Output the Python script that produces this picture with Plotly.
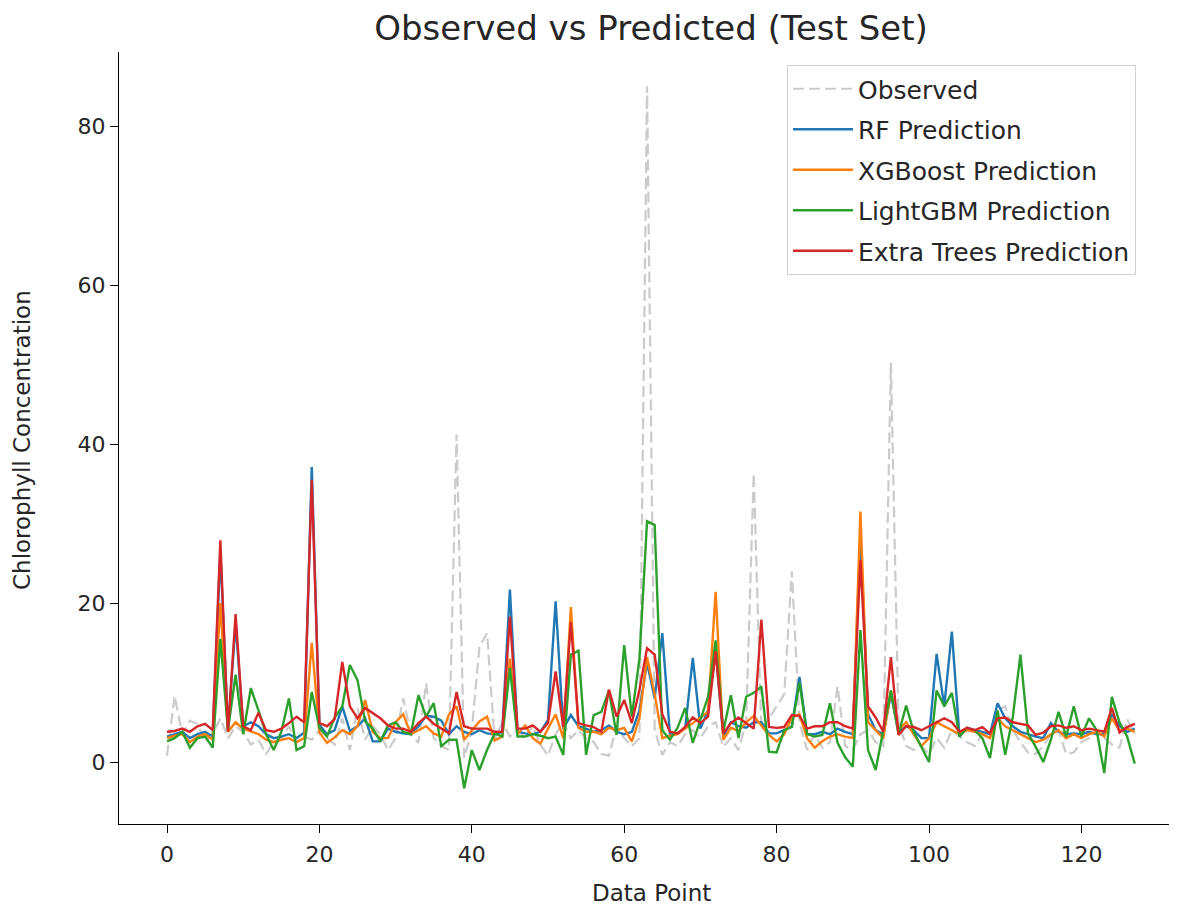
import plotly.graph_objects as go

x_index = list(range(128))

observed = [0.8, 8.3, 3.5, 5.2, 4.8, 2.5, 3.5, 5.5, 3.0, 4.5, 3.8, 2.2, 2.8, 1.0, 2.5, 3.0,
            4.5, 2.5, 3.2, 2.8, 4.0, 3.0, 2.2, 5.5, 1.5, 6.8, 2.8, 4.5, 3.5, 1.5, 3.0, 8.0,
            3.5, 2.4, 9.9, 3.0, 2.0, 1.5, 41.2, 0.5, 4.0, 14.5, 16.2, 2.8, 5.0, 3.2, 4.0, 3.0,
            4.5, 2.2, 0.8, 3.5, 5.0, 3.0, 4.0, 3.0, 2.5, 1.0, 0.8, 4.5, 3.0, 2.0, 3.0, 85.0,
            4.0, 0.9, 2.5, 2.0, 3.5, 4.0, 3.0, 4.5, 5.0, 1.9, 3.0, 1.5, 5.0, 36.3, 4.0, 5.5,
            7.0, 8.5, 24.0, 5.0, 1.5, 3.5, 1.8, 2.5, 9.5, 2.0, 1.5, 3.5, 4.0, 2.5, 2.0, 50.2,
            5.0, 2.0, 1.5, 2.0, 1.0, 3.0, 1.8, 4.0, 3.2, 2.5, 2.0, 3.5, 3.0, 6.5, 7.0, 4.0,
            2.5, 1.2, 1.0, 2.0, 3.5, 4.0, 1.0, 1.2, 2.5, 3.0, 4.0, 3.0, 2.2, 1.8, 5.4, 3.5]

rf_pred = [3.2, 3.5, 3.8, 3.0, 3.5, 3.8, 3.2, 26.5, 4.0, 17.5, 4.5, 5.0, 4.5, 3.5, 3.0, 3.2,
           3.5, 3.0, 3.7, 37.1, 4.7, 3.5, 4.0, 7.0, 3.9, 4.5, 5.5, 2.6, 2.6, 4.2, 3.8, 3.6,
           3.5, 4.5, 5.8, 5.7, 5.2, 3.5, 4.5, 3.8, 3.5, 4.0, 3.6, 3.5, 3.8, 21.7, 3.8, 3.6,
           3.5, 3.8, 5.3, 20.2, 4.2, 5.9, 4.5, 4.2, 3.8, 4.0, 4.6, 3.8, 3.5, 3.8, 6.5, 12.5,
           8.0, 16.2, 3.5, 3.6, 4.2, 13.1, 4.2, 6.5, 14.2, 3.2, 5.0, 4.5, 4.3, 5.0, 5.0, 3.6,
           3.6, 4.0, 4.5, 10.7, 3.5, 3.5, 3.8, 3.5, 4.2, 3.8, 3.5, 28.5, 6.0, 4.0, 3.5, 8.5,
           3.8, 4.5, 4.0, 3.0, 3.0, 13.6, 7.0, 16.4, 3.2, 4.3, 4.0, 3.8, 3.5, 7.4, 5.5, 4.5,
           3.8, 3.5, 3.2, 3.0, 4.9, 3.8, 3.5, 3.6, 3.5, 3.8, 3.5, 3.5, 6.0, 4.5, 3.8, 4.2]

xgb_pred = [3.0, 3.3, 3.5, 2.5, 3.2, 3.5, 2.8, 20.0, 3.8, 5.0, 4.2, 3.8, 3.5, 2.8, 2.5, 2.8,
            3.0, 2.5, 3.0, 15.0, 3.7, 2.4, 3.1, 4.0, 3.5, 4.5, 7.8, 3.8, 3.0, 3.0, 5.0, 6.0,
            3.5, 4.0, 4.5, 3.6, 3.2, 6.0, 7.0, 2.8, 4.0, 5.1, 5.7, 2.7, 3.2, 13.0, 3.5, 4.6,
            3.0, 2.3, 4.2, 6.0, 3.0, 19.5, 4.3, 3.8, 3.8, 3.5, 4.3, 4.0, 4.3, 2.6, 5.5, 13.2,
            8.5, 3.0, 3.3, 3.5, 4.2, 4.9, 5.5, 6.3, 21.4, 2.8, 4.3, 3.9, 5.0, 5.8, 4.6, 3.4,
            2.6, 3.5, 5.6, 6.0, 3.0, 1.8, 2.6, 3.2, 3.5, 3.2, 3.0, 31.5, 5.0, 4.0, 3.0, 9.0,
            4.0, 5.0, 3.5, 2.0, 3.0, 5.0, 4.5, 4.0, 3.5, 4.0, 3.8, 3.5, 3.0, 5.5, 4.5, 4.0,
            3.5, 3.0, 2.5, 2.8, 3.5, 4.0, 3.0, 3.5, 3.0, 3.5, 3.8, 3.2, 5.5, 4.0, 4.2, 3.8]

lgbm_pred = [2.6, 3.0, 3.8, 1.8, 3.0, 3.2, 1.8, 15.5, 4.0, 11.0, 3.5, 9.3, 6.5, 3.5, 1.5, 3.8,
             8.0, 1.5, 2.0, 8.8, 4.3, 3.2, 5.6, 7.0, 12.2, 10.3, 5.1, 4.2, 2.6, 4.6, 5.0, 3.8,
             3.5, 8.4, 5.7, 7.4, 2.0, 2.8, 2.8, -3.3, 1.5, -1.0, 1.5, 3.6, 3.2, 11.8, 3.2, 3.2,
             3.5, 3.3, 3.0, 3.2, 0.9, 13.5, 14.0, 0.9, 5.9, 6.3, 9.0, 3.4, 14.7, 5.7, 13.0, 30.3,
             29.8, 4.0, 2.8, 4.3, 6.8, 2.4, 5.3, 8.2, 15.3, 3.8, 8.4, 3.0, 8.2, 8.7, 9.5, 1.3,
             1.2, 4.0, 4.4, 10.0, 3.5, 3.2, 3.4, 7.4, 2.4, 0.6, -0.6, 16.6, 1.5, -1.0, 4.0, 9.0,
             3.5, 7.1, 3.8, 2.0, 0.0, 9.0, 7.0, 8.7, 3.2, 4.3, 4.0, 3.0, 0.5, 6.5, 0.9, 5.7,
             13.5, 3.6, 1.9, 0.0, 2.8, 6.3, 3.2, 7.0, 3.2, 5.5, 4.0, -1.4, 8.2, 5.0, 3.2, -0.2]

et_pred = [3.8, 3.9, 4.2, 3.8, 4.5, 4.8, 4.0, 27.9, 3.8, 18.6, 4.5, 4.0, 6.2, 4.0, 3.8, 4.2,
           4.9, 5.7, 5.0, 35.5, 4.9, 4.5, 5.4, 12.6, 7.0, 5.5, 6.8, 6.2, 5.5, 4.6, 4.2, 4.2,
           3.8, 4.9, 5.7, 4.8, 4.2, 3.6, 8.8, 4.5, 4.2, 4.2, 4.2, 3.8, 3.8, 18.3, 4.2, 4.2,
           4.6, 3.8, 4.9, 11.4, 4.4, 17.6, 4.9, 4.6, 4.4, 3.8, 9.1, 5.7, 7.8, 4.9, 9.1, 14.3,
           13.5, 6.0, 3.8, 3.6, 4.4, 5.6, 4.9, 5.7, 13.9, 3.6, 4.9, 5.6, 4.9, 4.2, 17.9, 4.4,
           4.3, 4.4, 5.9, 5.8, 4.2, 4.5, 4.5, 5.0, 5.0, 4.5, 4.2, 25.4, 7.0, 5.6, 3.8, 13.2,
           3.4, 4.5, 4.4, 4.0, 4.5, 5.0, 5.5, 5.0, 3.8, 4.3, 4.0, 4.4, 3.6, 5.5, 5.6, 5.0,
           4.8, 4.6, 3.4, 3.7, 4.5, 4.6, 4.3, 4.5, 4.0, 4.2, 4.0, 3.8, 6.8, 3.7, 4.4, 4.8]

x_ticks = [0, 20, 40, 60, 80, 100, 120]
y_ticks = [0, 20, 40, 60, 80]

series = [
    ("RF Prediction", rf_pred, "#1f77b4"),
    ("XGBoost Prediction", xgb_pred, "#ff7f0e"),
    ("LightGBM Prediction", lgbm_pred, "#2ca02c"),
    ("Extra Trees Prediction", et_pred, "#d62728"),
]

fig = go.Figure()
fig.add_trace(go.Scatter(x=x_index, y=observed, mode="lines", name="Observed",
                         legendgroup="obs",
                         line=dict(color="#cbcbcb", width=2.2, dash="11px,5px")))
for name, vals, col in series:
    fig.add_trace(go.Scatter(x=x_index, y=vals, mode="lines", name=name,
                             legendgroup=name, line=dict(color=col, width=2.4)))

font_main = "DejaVu Sans, sans-serif"
text_col = "#262626"

# page has an 8px body margin: figure coordinates = page coordinates - 8
W, H = 1169, 900
L, T, B = 111, 44, 84
PW, PH = W - L, H - T - B

fig.update_layout(
    width=W, height=H,
    margin=dict(l=L, r=0, t=T, b=B),
    plot_bgcolor="white", paper_bgcolor="white",
    font=dict(family=font_main, size=22, color=text_col),
    title=dict(text="Observed vs Predicted (Test Set)", x=643/W, xref="container",
               xanchor="center", y=1-20/H, yref="container", yanchor="middle",
               font=dict(family=font_main, size=34, color=text_col)),
    showlegend=True,
    legend=dict(x=(787-119)/PW, y=(824-65)/PH, xanchor="left", yanchor="top",
                bgcolor="white", bordercolor="#d0d0d0", borderwidth=1,
                font=dict(family=font_main, size=25, color=text_col),
                tracegroupgap=5, itemwidth=60),
    xaxis=dict(range=[-6.3, (1177-167)/7.62], tickmode="array", tickvals=x_ticks,
               showgrid=False, zeroline=False, showline=True, linecolor="black",
               linewidth=1.3, ticks="outside", ticklen=8, tickwidth=1.3,
               tickcolor="black", ticklabelstandoff=2,
               tickfont=dict(family=font_main, size=22, color=text_col)),
    yaxis=dict(range=[(762-824)/7.95, (762-52)/7.95], tickmode="array", tickvals=y_ticks,
               showgrid=False, zeroline=False, showline=True, linecolor="black",
               linewidth=1.3, ticks="outside", ticklen=8, tickwidth=1.3,
               tickcolor="black", ticklabelstandoff=0,
               tickfont=dict(family=font_main, size=22, color=text_col)),
    annotations=[
        dict(text="Data Point", xref="paper", yref="paper", x=(651-119)/PW, y=0,
             xanchor="center", yanchor="middle", yshift=-(893-824), showarrow=False,
             font=dict(family=font_main, size=23, color=text_col)),
        dict(text="Chlorophyll Concentration", xref="paper", yref="paper", x=0,
             y=(824-440)/PH, xanchor="center", yanchor="middle", xshift=-(119-22),
             textangle=-90, showarrow=False,
             font=dict(family=font_main, size=23, color=text_col)),
    ],
)

fig.write_html("out.html")
